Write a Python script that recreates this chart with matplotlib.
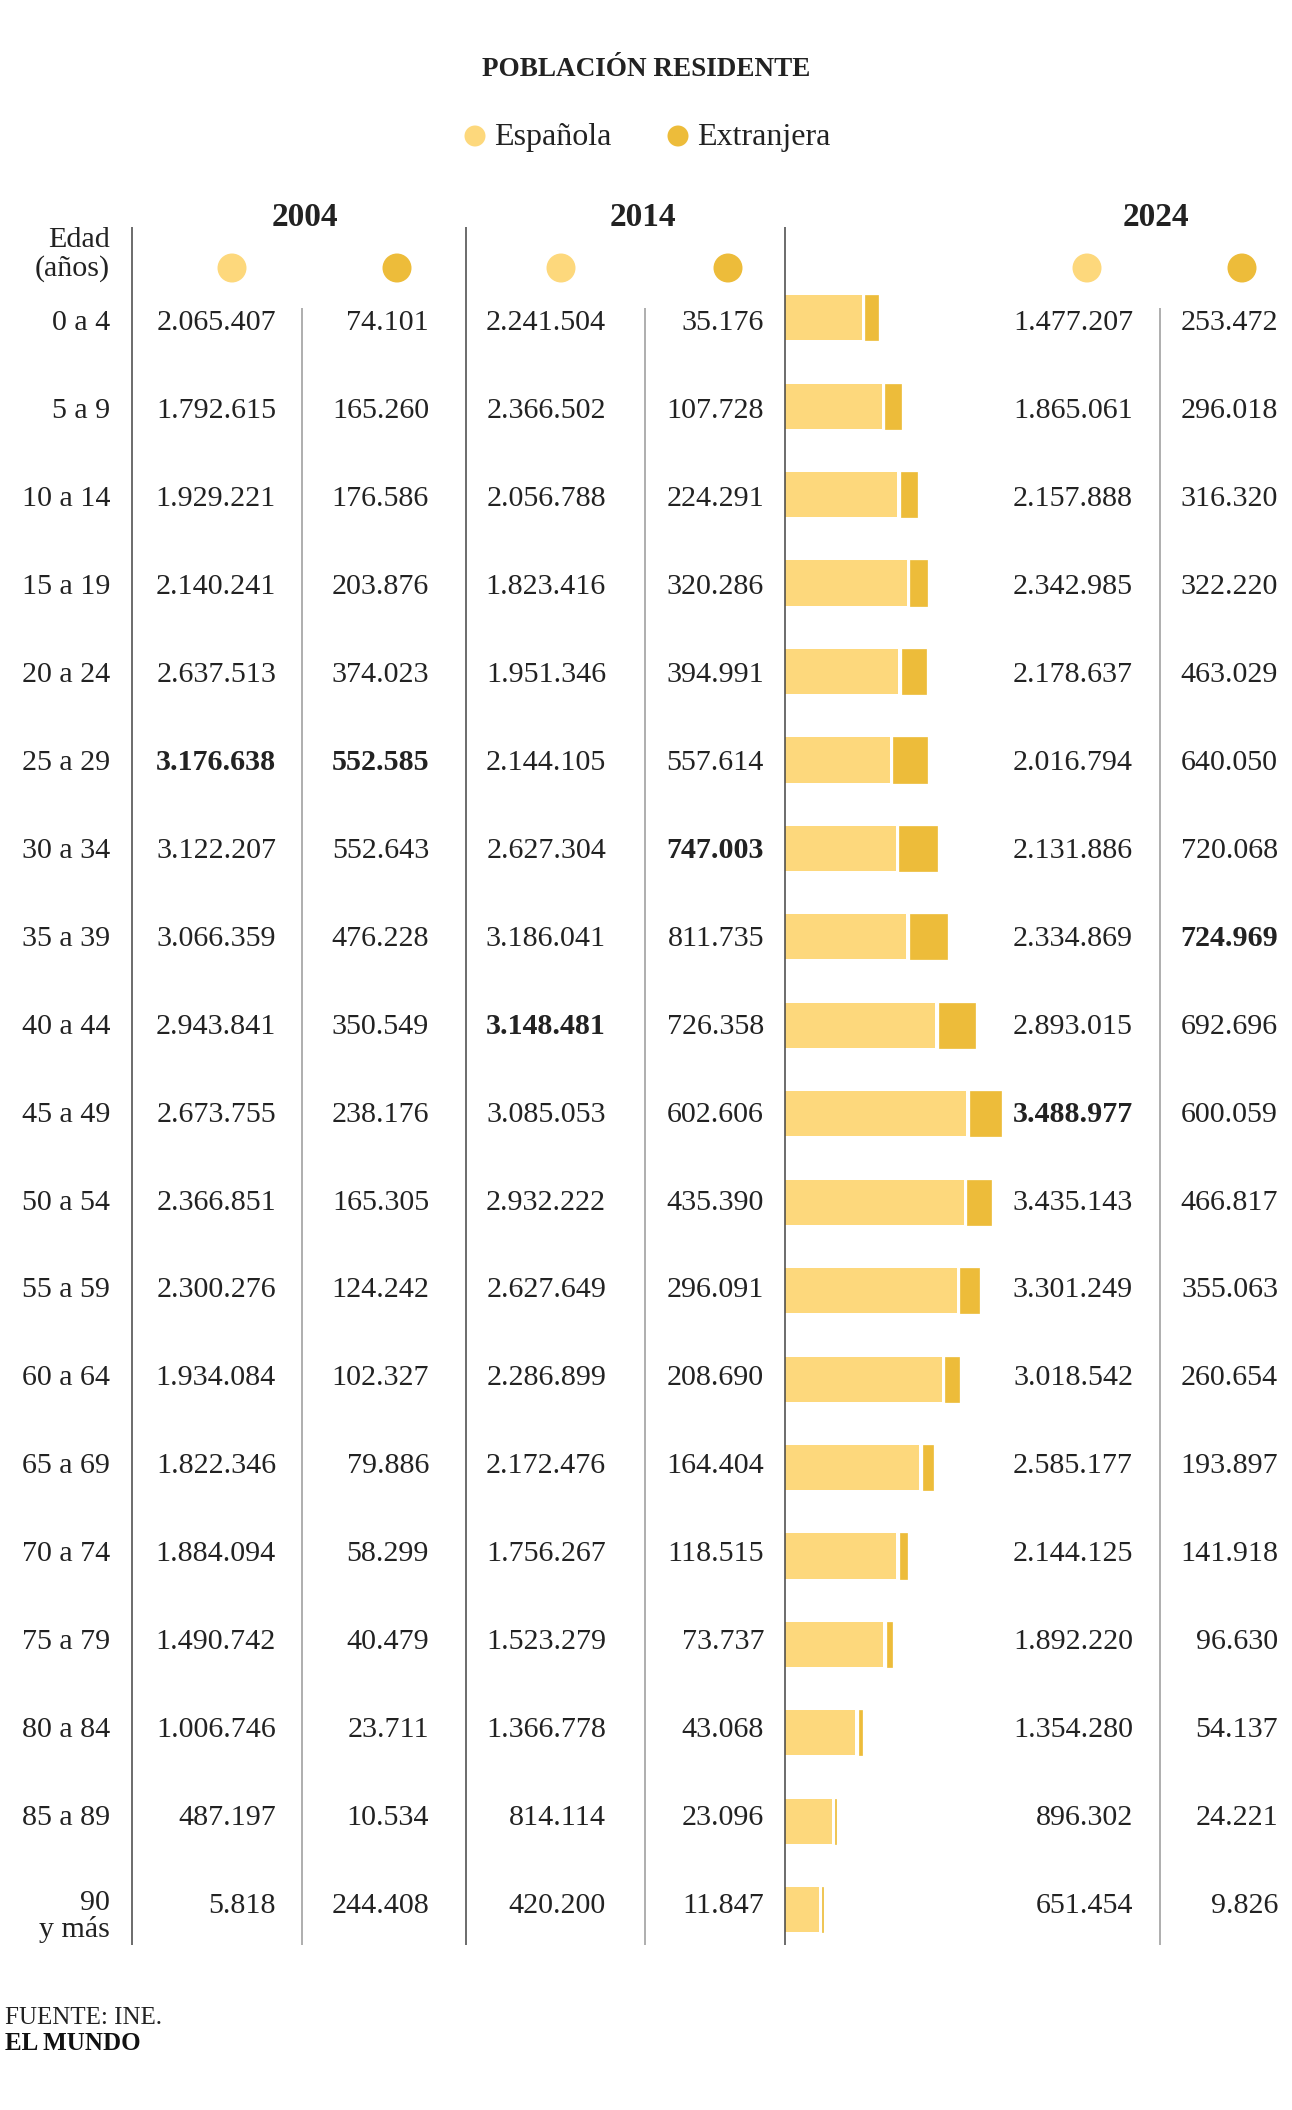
import matplotlib
matplotlib.use('Agg')
import matplotlib.pyplot as plt
from matplotlib.patches import Circle
from matplotlib.transforms import blended_transform_factory

ages = ['0 a 4', '5 a 9', '10 a 14', '15 a 19', '20 a 24', '25 a 29', '30 a 34',
        '35 a 39', '40 a 44', '45 a 49', '50 a 54', '55 a 59', '60 a 64',
        '65 a 69', '70 a 74', '75 a 79', '80 a 84', '85 a 89', '90\ny más']

esp_2004 = [2065407, 1792615, 1929221, 2140241, 2637513, 3176638, 3122207, 3066359,
            2943841, 2673755, 2366851, 2300276, 1934084, 1822346, 1884094, 1490742,
            1006746, 487197, 5818]
ext_2004 = [74101, 165260, 176586, 203876, 374023, 552585, 552643, 476228, 350549,
            238176, 165305, 124242, 102327, 79886, 58299, 40479, 23711, 10534, 244408]
esp_2014 = [2241504, 2366502, 2056788, 1823416, 1951346, 2144105, 2627304, 3186041,
            3148481, 3085053, 2932222, 2627649, 2286899, 2172476, 1756267, 1523279,
            1366778, 814114, 420200]
ext_2014 = [35176, 107728, 224291, 320286, 394991, 557614, 747003, 811735, 726358,
            602606, 435390, 296091, 208690, 164404, 118515, 73737, 43068, 23096, 11847]
esp_2024 = [1477207, 1865061, 2157888, 2342985, 2178637, 2016794, 2131886, 2334869,
            2893015, 3488977, 3435143, 3301249, 3018542, 2585177, 2144125, 1892220,
            1354280, 896302, 651454]
ext_2024 = [253472, 296018, 316320, 322220, 463029, 640050, 720068, 724969, 692696,
            600059, 466817, 355063, 260654, 193897, 141918, 96630, 54137, 24221, 9826]

years = ['2004', '2014', '2024']
series_names = ['Española', 'Extranjera']
# row that is printed in bold for each value column
highlight = [5, 5, 8, 6, 9, 7]

C_ESP = '#FDD87C'
C_EXT = '#EDBC3A'
TXT = '#222222'
FONT = 'Liberation Serif'

plt.rcParams['font.family'] = [FONT, 'DejaVu Serif']

W, H = 1292, 2110
fig = plt.figure(figsize=(W / 100, H / 100), dpi=100)

# layout axes in pixel units
ax = fig.add_axes([0, 0, 1, 1])
ax.set_xlim(0, W)
ax.set_ylim(H, 0)
ax.axis('off')
ax.set_zorder(3)

# bar axes: rows as y units, people as x units
row0, drow = 317.7, 88.45
top = row0 - 0.5 * drow
bot = row0 + (len(ages) - 0.5) * drow
bx = fig.add_axes([785 / W, 1 - bot / H, (W - 785) / W, (bot - top) / H])
bx.set_ylim(len(ages) - 0.5, -0.5)
bx.set_xlim(0, (W - 785) / 52 * 1e6)
bx.axis('off')

rows = list(range(len(ages)))
gap = 65000  # white gap between the two pieces of a bar
bx.barh(rows, esp_2024, height=0.51, color=C_ESP, lw=0)
bx.barh(rows, ext_2024, left=[e + gap for e in esp_2024], height=0.51,
        color=C_EXT, edgecolor=C_EXT, lw=0.5)

# title and legend
ax.text(646, 70, 'POBLACIÓN RESIDENTE', ha='center', va='center',
        fontsize=19.5, fontweight='bold', color=TXT)
for x, name, c in zip([475, 678], series_names, [C_ESP, C_EXT]):
    ax.add_patch(Circle((x, 136), 10.5, color=c, lw=0))
    ax.text(x + 19, 137, name, ha='left', va='center', fontsize=23, color=TXT)

# year headers and column dots
for x, yr in zip([305, 643, 1156], years):
    ax.text(x, 218, yr, ha='center', va='center', fontsize=24,
            fontweight='bold', color=TXT)
for x, c in zip([232, 397, 561, 728, 1087, 1242], [C_ESP, C_EXT] * 3):
    ax.add_patch(Circle((x, 268), 14.5, color=c, lw=0))

ax.text(110, 240, 'Edad', ha='right', va='center', fontsize=21.6, color=TXT)
ax.text(110, 269, '(años)', ha='right', va='center', fontsize=21.6, color=TXT)

# column rules
ax.vlines([132, 466, 785], 227, 1945, color='#444444', lw=1.1)
ax.vlines([302, 645, 1160], 308, 1945, color='#999999', lw=1.1)

# table values (text rows sit on a slightly tighter pitch than the bars)
tr = blended_transform_factory(ax.transData, bx.transData)
cols = [esp_2004, ext_2004, esp_2014, ext_2014, esp_2024, ext_2024]
col_x = [276, 429, 606, 764, 1133, 1278]
for i, age in enumerate(ages):
    ty = i * 0.9942 + 0.062
    ax.text(110, ty + (0.12 if '\n' in age else 0), age, transform=tr,
            ha='right', va='center', fontsize=21.6, color=TXT, linespacing=1.0)
    for vals, x, hi in zip(cols, col_x, highlight):
        s = f'{vals[i]:,}'.replace(',', '.')
        ax.text(x, ty, s, transform=tr, ha='right', va='center', fontsize=21.6,
                color=TXT, fontweight='bold' if i == hi else 'normal')

# footer
ax.text(5, 2018, 'FUENTE: INE.', ha='left', va='center', fontsize=18, color=TXT)
ax.text(5, 2043, 'EL MUNDO', ha='left', va='center', fontsize=18,
        fontweight='bold', color='#111111')

fig.savefig('out.png', dpi=100, facecolor='white')
